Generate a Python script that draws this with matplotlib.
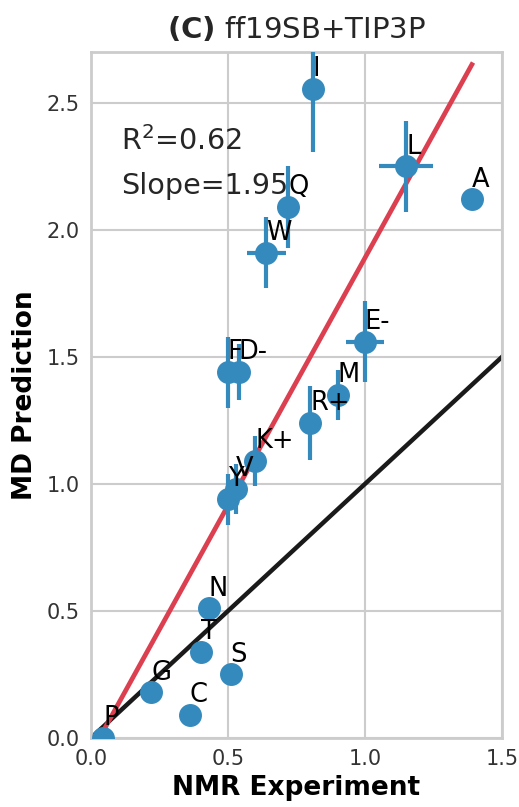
import matplotlib
matplotlib.use('Agg')
import numpy as np
import matplotlib.pyplot as plt

# residue labels and values
labels = ['A', 'C', 'D-', 'E-', 'F', 'G', 'I', 'K+', 'L', 'M',
          'N', 'P', 'Q', 'R+', 'S', 'T', 'V', 'W', 'Y']
nmr = [1.39, 0.36, 0.54, 1.00, 0.50, 0.22, 0.81, 0.60, 1.15, 0.90,
       0.43, 0.045, 0.72, 0.80, 0.51, 0.40, 0.53, 0.64, 0.50]
nmr_err = [0, 0, 0, 0.07, 0, 0, 0, 0, 0.10, 0,
           0, 0, 0, 0, 0, 0, 0, 0.07, 0]
md = [2.12, 0.09, 1.44, 1.56, 1.44, 0.18, 2.555, 1.09, 2.25, 1.35,
      0.51, 0.0, 2.09, 1.24, 0.25, 0.34, 0.98, 1.91, 0.94]
md_err = [0, 0, 0.11, 0.16, 0.14, 0, 0.25, 0.10, 0.18, 0.10,
          0, 0, 0.16, 0.145, 0, 0, 0.10, 0.14, 0.10]

r2 = 0.62
slope = 1.95
intercept = -0.06

plt.rcParams['font.family'] = ['DejaVu Sans']
plt.rcParams['text.color'] = '#262626'

fig = plt.figure(figsize=(5.19, 8.07), dpi=100)
ax = fig.add_axes([91 / 519, 1 - 738 / 807, 411 / 519, 686 / 807])

# identity line and fit line
ax.plot([0, 1.5], [0, 1.5], color='#1a1a1a', lw=3.2, zorder=2)
xfit = np.array([min(nmr), max(nmr)])
ax.plot(xfit, slope * xfit + intercept, color='#dc3f4f', lw=3.4, zorder=2)

ax.errorbar(nmr, md, xerr=nmr_err, yerr=md_err, fmt='o', color='#348ABD',
            ms=15.5, elinewidth=3, capsize=0, zorder=3)

for lab, x, y in zip(labels, nmr, md):
    ax.text(x, y + 0.05, lab, fontsize=18.5, color='black', zorder=4)

ax.text(0.11, 2.313, 'R$^2$=%.2f' % r2, fontsize=20.6)
ax.text(0.11, 2.142, 'Slope=%.2f' % slope, fontsize=20.6)

ax.set_xlim(0, 1.5)
ax.set_ylim(0, 2.7)
ax.set_xticks([0.0, 0.5, 1.0, 1.5])
ax.set_yticks([0.0, 0.5, 1.0, 1.5, 2.0, 2.5])
ax.grid(True, color='#cccccc', lw=1.5)
ax.set_axisbelow(True)
for sp in ax.spines.values():
    sp.set_color('#cccccc')
    sp.set_linewidth(2)
ax.tick_params(length=0, labelsize=15, labelcolor='#333333', pad=8)

ax.set_xlabel('NMR Experiment', fontsize=19, fontweight='bold', labelpad=4)
ax.set_ylabel('MD Prediction', fontsize=19, fontweight='bold', labelpad=6)
ax.set_title(r'$\bf{(C)}$ ff19SB+TIP3P', fontsize=21, pad=10)

fig.savefig('out.png', dpi=100)
